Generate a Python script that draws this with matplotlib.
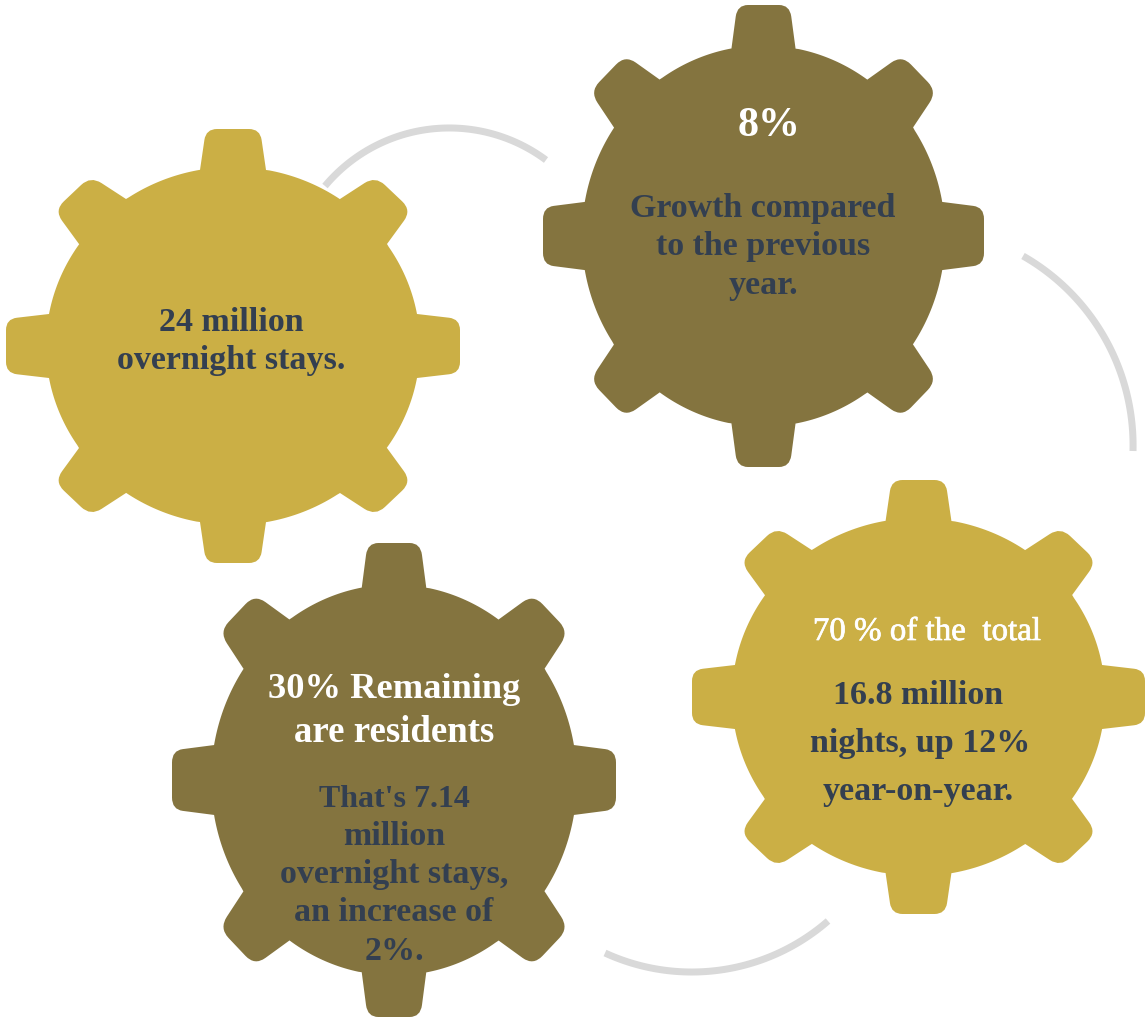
import numpy as np
import matplotlib
matplotlib.use('Agg')
import matplotlib.pyplot as plt
import matplotlib.patheffects as pe
from matplotlib.patches import PathPatch
from matplotlib.path import Path

GOLD = '#CBAF45'
OLIVE = '#84743F'
SLATE = '#333F50'
WHITE = '#FFFFFF'
ARC_GREY = '#D9D9D9'
FONT = 'Liberation Serif'

# cx, cy, half width, half height of each gear
gear_boxes = [(233, 346, 227, 217), (763.5, 236, 220.5, 231),
              (918.5, 697, 226.5, 217), (394, 780, 222, 237)]
gear_colors = [GOLD, OLIVE, GOLD, OLIVE]

# three points on each connecting arc
arc_points = [[(325, 186), (447, 128), (546, 160)],
              [(1023, 256), (1100, 330), (1133, 451)],
              [(828, 921), (690, 972), (605, 953)]]

# text, x, baseline y, colour, size in px
labels_1 = [("24 million", 231, 331, SLATE, 34), ("overnight stays.", 231, 369, SLATE, 34)]
labels_2 = [("8%", 769, 136, WHITE, 42), ("Growth compared", 763, 217, SLATE, 34),
            ("to the previous", 763, 255, SLATE, 34), ("year.", 763, 294, SLATE, 34)]
labels_3 = [("16.8 million", 918, 704, SLATE, 34),
            ("nights, up 12%", 920, 752, SLATE, 34), ("year-on-year.", 918, 800, SLATE, 34)]
labels_4 = [("30% Remaining", 394, 698, WHITE, 36.5), ("are residents", 394, 742, WHITE, 36.8),
            ("That's 7.14", 394, 807, SLATE, 32), ("million", 394, 845, SLATE, 34),
            ("overnight stays,", 394, 883, SLATE, 34), ("an increase of", 394, 921, SLATE, 34),
            ("2%.", 394, 960, SLATE, 34)]
# lighter line above the figures in the third gear
note_3 = ("70 % of the  total", 927, 640, WHITE, 33)


def rounded_corner(verts, codes, before, corner, after, r):
    """Add a corner to the path, rounded off over r pixels on both sides"""
    a = corner + (before - corner) / np.linalg.norm(before - corner) * r
    b = corner + (after - corner) / np.linalg.norm(after - corner) * r
    verts += [a, corner, b]
    codes += [Path.LINETO, Path.CURVE3, Path.CURVE3]


def gear_path(cx, cy, half_w, half_h):
    """Gear with 8 teeth, built on a 227 x 217 base outline"""
    sx, sy = half_w / 227, half_h / 217
    rx, ry = 187, 179

    diag = [(107, -147), (142.4, -170), (178.6, -135.7), (154, -102)]

    # teeth clockwise from the top, each as base, tip, tip, base
    teeth = [[(-33, -176), (-27, -217), (27, -217), (33, -176)], diag,
             [(184, -32), (227, -27), (227, 27), (184, 32)],
             [(x, -y) for x, y in diag[::-1]],
             [(33, 176), (27, 217), (-27, 217), (-33, 176)],
             [(-x, -y) for x, y in diag],
             [(-184, 32), (-227, 27), (-227, -27), (-184, -32)],
             [(-x, y) for x, y in diag[::-1]]]

    verts, codes = [], []
    for i, tooth in enumerate(teeth):
        base_a, tip_a, tip_b, base_b = [np.array(p, dtype=float) for p in tooth]
        radius = 13 if i % 2 else 11
        verts.append(base_a)
        codes.append(Path.MOVETO if i == 0 else Path.LINETO)
        rounded_corner(verts, codes, base_a, tip_a, tip_b, radius)
        rounded_corner(verts, codes, tip_a, tip_b, base_b, radius)
        verts.append(base_b)
        codes.append(Path.LINETO)

        # body edge up to the next tooth
        next_a = np.array(teeth[(i + 1) % len(teeth)][0], dtype=float)
        t0 = np.arctan2(base_b[1] / ry, base_b[0] / rx)
        t1 = np.arctan2(next_a[1] / ry, next_a[0] / rx)
        if t1 < t0:
            t1 += 2 * np.pi
        for t in np.linspace(t0, t1, 24)[1:]:
            verts.append(np.array([rx * np.cos(t), ry * np.sin(t)]))
            codes.append(Path.LINETO)
    verts.append(verts[0])
    codes.append(Path.CLOSEPOLY)

    verts = np.array(verts) * [sx, sy] + [cx, cy]
    return Path(verts, codes)


def draw_arc(ax, p1, p2, p3):
    """Circle through three points, drawn from p1 to p3"""
    (x1, y1), (x2, y2), (x3, y3) = p1, p2, p3
    A = np.array([[x2 - x1, y2 - y1], [x3 - x1, y3 - y1]], dtype=float)
    B = 0.5 * np.array([x2**2 - x1**2 + y2**2 - y1**2, x3**2 - x1**2 + y3**2 - y1**2])
    cx, cy = np.linalg.solve(A, B)
    r = np.hypot(x1 - cx, y1 - cy)
    a1 = np.degrees(np.arctan2(y1 - cy, x1 - cx))
    a3 = np.degrees(np.arctan2(y3 - cy, x3 - cx))
    a2 = np.degrees(np.arctan2(y2 - cy, x2 - cx))
    lo, hi = min(a1, a3), max(a1, a3)
    if not lo < a2 < hi:
        lo, hi = hi, lo + 360
    theta = np.radians(np.linspace(lo, hi, 120))
    ax.plot(cx + r * np.cos(theta), cy + r * np.sin(theta), color=ARC_GREY,
            lw=7 * 0.72, solid_capstyle='butt', zorder=1)


fig = plt.figure(figsize=(11.46, 10.19), dpi=100)
ax = fig.add_axes([0, 0, 1, 1])
ax.set_xlim(0, 1146)
ax.set_ylim(1019, 0)
ax.axis('off')

for points in arc_points:
    draw_arc(ax, *points)

for box, color in zip(gear_boxes, gear_colors):
    ax.add_patch(PathPatch(gear_path(*box), facecolor=color, edgecolor='none', zorder=2))

for labels in (labels_1, labels_2, labels_3, labels_4):
    for text, x, y, color, size in labels:
        ax.text(x, y, text, color=color, fontsize=size * 0.72, family=FONT,
                fontweight='bold', ha='center', va='baseline', zorder=3)

# regular weight with a thin outline, this line is not full bold
text, x, y, color, size = note_3
ax.text(x, y, text, color=color, fontsize=size * 0.72, family=FONT, ha='center', va='baseline',
        zorder=3, path_effects=[pe.withStroke(linewidth=0.5, foreground=color)])

fig.savefig('out.png', dpi=100)
